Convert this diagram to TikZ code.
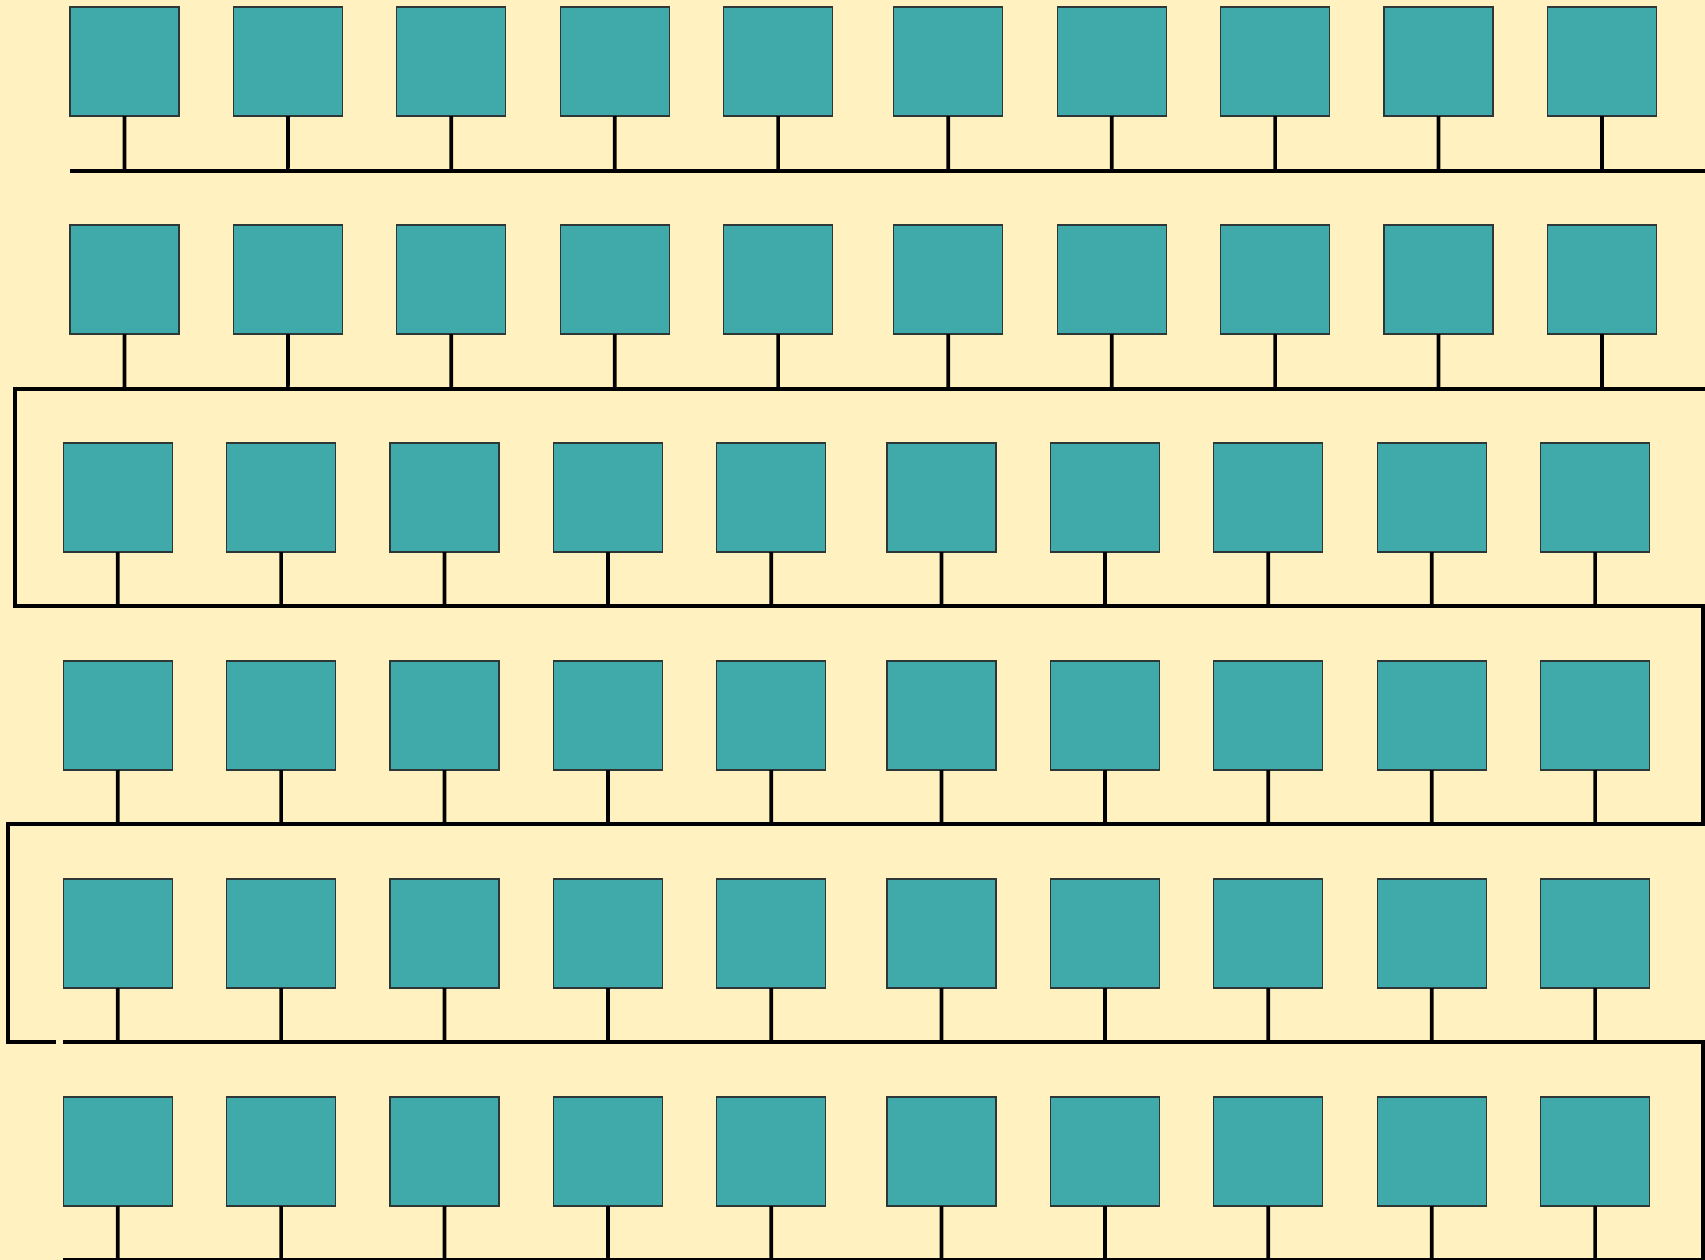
\documentclass[tikz,border=0pt]{standalone}
\definecolor{bgc}{RGB}{255,242,192}
\definecolor{boxc}{RGB}{64,170,170}
\definecolor{boxline}{RGB}{45,55,55}
\begin{document}
\begin{tikzpicture}[x=0.01cm,y=-0.01cm,
  unitbox/.style={draw=boxline, line width=0.35pt, fill=boxc, minimum width=1.09cm, minimum height=1.09cm, inner sep=0pt, outer sep=0pt, anchor=north west},
  wire/.style={line width=1.05pt, black}]
\fill[bgc] (0,0) rectangle (1705,1260);
\useasboundingbox (0,0) rectangle (1705,1260);
\foreach \r in {0,...,5} {
  \pgfmathsetmacro\off{\r<2 ? 0 : -6.8}
  \foreach \c [count=\i] in {70,233.4,396.8,560.2,723.6,893.8,1057.2,1220.6,1384,1547.4} {
    \node[unitbox] (b\r\i) at ({\c+\off},{7+218*\r}) {};
    \coordinate (t\r\i) at ({\c+\off+54.5},{170.7+218*\r});
    \draw[wire] (b\r\i.south) -- (t\r\i);
  }
}
% bus corners
\coordinate (a0) at (70,170.7);
\coordinate (a1) at (1705,170.7);
\coordinate (c0) at (1705,388.7);
\coordinate (c1) at (15,388.7);
\coordinate (c2) at (15,606);
\coordinate (c3) at (1703,606);
\coordinate (c4) at (1703,824.3);
\coordinate (c5) at (8,824.3);
\coordinate (c6) at (8,1042.3);
\coordinate (c7) at (56,1042.3);
\coordinate (d0) at (63,1042.3);
\coordinate (d1) at (1703,1042.3);
\coordinate (d2) at (1703,1260.3);
\coordinate (e0) at (63,1259.5);
\coordinate (e1) at (1703,1259.5);
\draw[wire] (a0) -- (a1);
\draw[wire] (c0) -- (c1) -- (c2) -- (c3) -- (c4) -- (c5) -- (c6) -- (c7);
\draw[wire] (d0) -- (d1) -- (d2);
\draw[wire] (e0) -- (e1);
\end{tikzpicture}
\end{document}
